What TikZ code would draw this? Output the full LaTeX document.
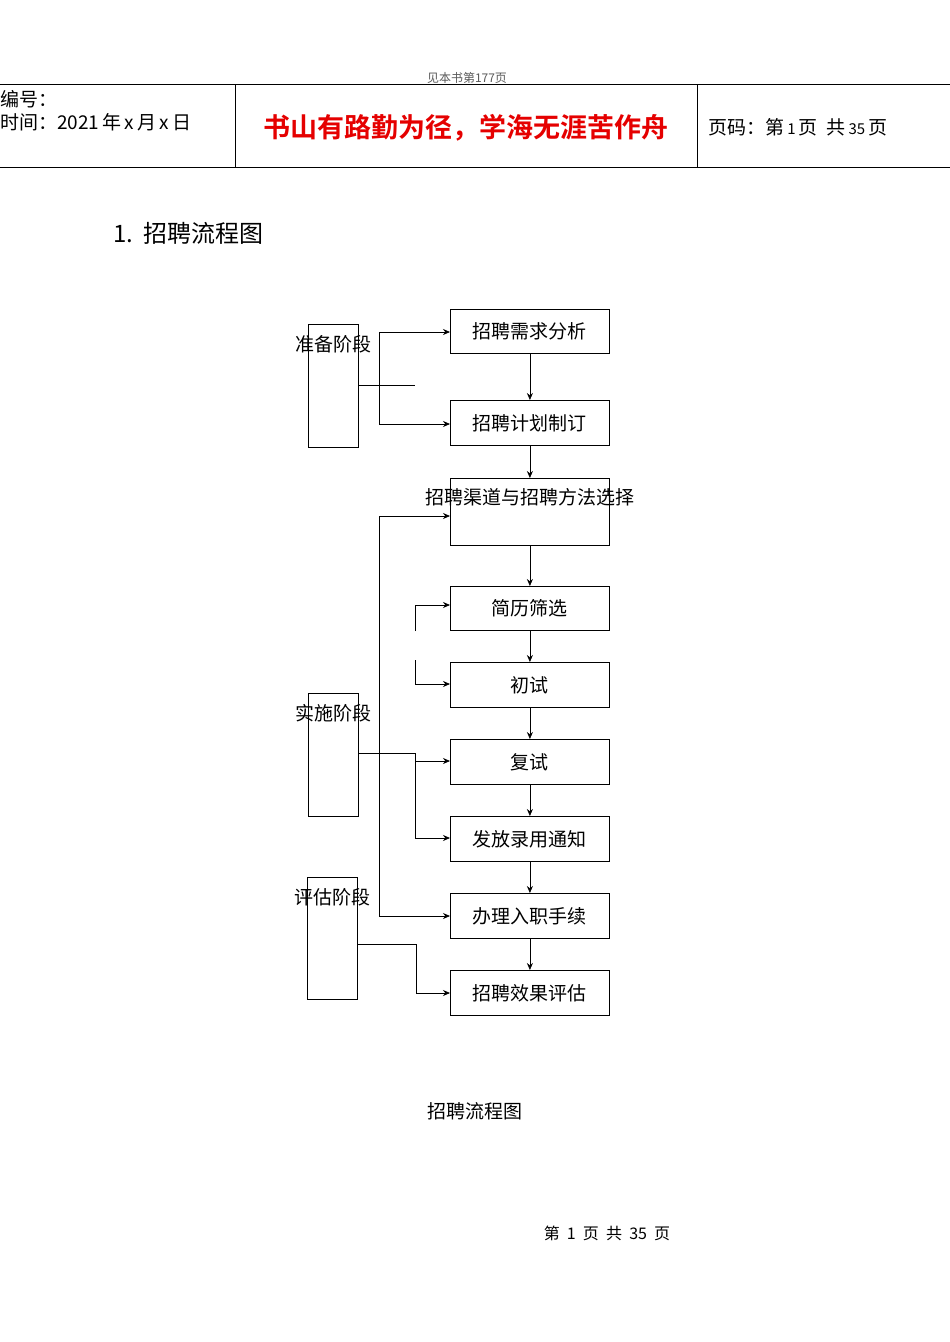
\documentclass[tikz,border=0pt]{standalone}
\usepackage{fontspec}
\usetikzlibrary{arrows.meta}
\newfontfamily\cjk{Noto Sans CJK SC}
\newfontfamily\cjkb{Noto Sans CJK SC Bold}
\begin{document}
\begin{tikzpicture}[x=1pt,y=-1pt,
  box/.style={draw,line width=0.8pt,minimum width=159pt,anchor=north west,inner sep=0pt},
  stage/.style={draw,line width=0.8pt,minimum width=50pt,anchor=north west,inner sep=0pt},
  lab/.style={font=\cjk\fontsize{19}{19}\selectfont},
  ar/.style={-{Stealth[length=7pt,width=6pt]},line width=0.7pt},
  ln/.style={line width=0.7pt}]
\useasboundingbox (0,0) rectangle (950,1342);
% header
\node[font=\cjk\fontsize{12}{12}\selectfont,text=gray!70!black] (top) at (467,78) {见本书第177页};
\draw[line width=0.8pt] (0,84) -- (950,84) (0,167) -- (950,167) (235,84) -- (235,167) (697,84) -- (697,167);
\node[anchor=west,inner sep=0pt,font=\cjk\fontsize{19}{19}\selectfont] (bh) at (0,99) {编号：};
\node[anchor=west,inner sep=0pt,font=\cjk\fontsize{19}{19}\selectfont] (tm) at (0,122) {时间：2021\,年\,x\,月\,x\,日};
\node[font=\cjkb\fontsize{27}{27}\selectfont,text=red!90!black] (motto) at (466,128) {书山有路勤为径，学海无涯苦作舟};
\node[anchor=west,inner sep=0pt,font=\cjk\fontsize{19}{19}\selectfont] (pg) at (708,127) {页码：第\,{\fontsize{15}{15}\selectfont 1}\,页\ \ 共\,{\fontsize{15}{15}\selectfont 35}\,页};
\node[anchor=west,inner sep=0pt,font=\cjk\fontsize{24}{24}\selectfont] (title) at (113,233) {1.\ \ 招聘流程图};
% main boxes
\node[box,minimum height=44pt,lab] (b1) at (450,309) {招聘需求分析};
\node[box,minimum height=45pt,lab] (b2) at (450,400) {招聘计划制订};
\node[box,minimum height=67pt] (b3) at (450,478) {};
\node[lab] (b3t) at (530,497) {招聘渠道与招聘方法选择};
\node[box,minimum height=44pt,lab] (b4) at (450,586) {简历筛选};
\node[box,minimum height=45pt,lab] (b5) at (450,662) {初试};
\node[box,minimum height=45pt,lab] (b6) at (450,739) {复试};
\node[box,minimum height=45pt,lab] (b7) at (450,816) {发放录用通知};
\node[box,minimum height=45pt,lab] (b8) at (450,893) {办理入职手续};
\node[box,minimum height=45pt,lab] (b9) at (450,970) {招聘效果评估};
\foreach \a/\b in {b1/b2,b2/b3,b3/b4,b4/b5,b5/b6,b6/b7,b7/b8,b8/b9}
  \draw[ar] (\a.south) -- (\b.north);
% stage boxes
\node[stage,minimum height=123pt] (s1) at (308,324) {};
\node[stage,minimum height=123pt] (s2) at (308,693) {};
\node[stage,minimum height=122pt] (s3) at (307,877) {};
\node[lab] (s1t) at (333,344) {准备阶段};
\node[lab] (s2t) at (333,713) {实施阶段};
\node[lab] (s3t) at (332,897) {评估阶段};
% connectors
\coordinate (c1) at (415,385);
\draw[ln] (s1.east |- c1) -- (c1);
\draw[ar] (379,424) -- (379,332) -- (b1.west |- 0,332);
\draw[ar] (379,424) -- (b2.west |- 0,424);
\draw[ar] (379,916) -- (379,516) -- (b3.west |- 0,516);
\draw[ar] (379,916) -- (b8.west |- 0,916);
\draw[ar] (415,631) -- (415,605) -- (b4.west |- 0,605);
\draw[ar] (415,660) -- (415,684) -- (b5.west |- 0,684);
\draw[ln] (s2.east |- 0,753) -- (415,753) -- (415,838);
\draw[ar] (415,761) -- (b6.west |- 0,761);
\draw[ar] (415,838) -- (b7.west |- 0,838);
\draw[ar] (s3.east |- 0,944) -- (416,944) -- (416,993) -- (b9.west |- 0,993);
% caption & footer
\node[font=\cjk\fontsize{19}{19}\selectfont] (cap) at (475,1111) {招聘流程图};
\node[font=\cjk\fontsize{16}{16}\selectfont] (foot) at (607,1233) {第\ \ 1\ \ 页\ \ 共\ \ 35\ \ 页};
\end{tikzpicture}
\end{document}
